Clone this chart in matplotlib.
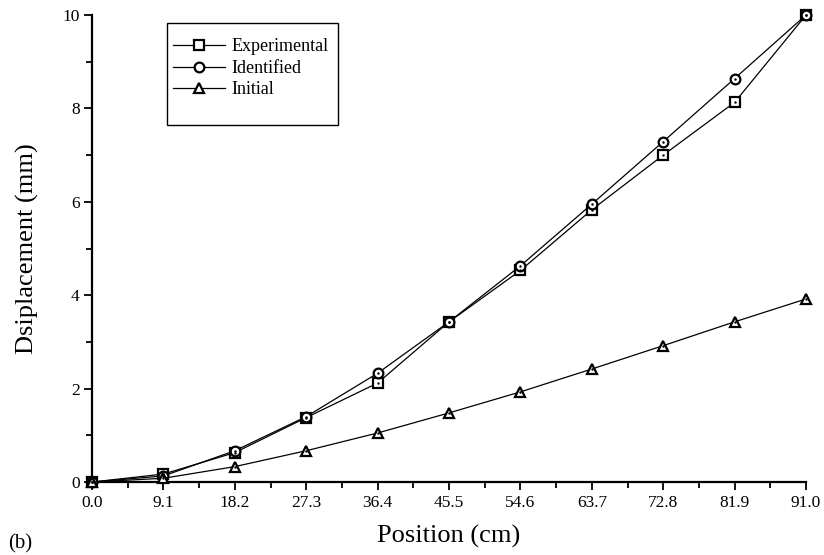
import matplotlib
matplotlib.use('Agg')
import matplotlib.pyplot as plt
from matplotlib.patches import Rectangle
from matplotlib.ticker import MultipleLocator
import numpy as np

plt.rcParams['font.family'] = ['Liberation Serif', 'DejaVu Serif']

# Dataset
position = [0.0, 9.1, 18.2, 27.3, 36.4, 45.5, 54.6, 63.7, 72.8, 81.9, 91.0]
experimental = [0.0, 0.17, 0.63, 1.38, 2.12, 3.43, 4.53, 5.83, 7.00, 8.13, 10.0]
identified = [0.0, 0.13, 0.67, 1.40, 2.33, 3.43, 4.63, 5.95, 7.29, 8.64, 10.0]
initial = [0.0, 0.08, 0.33, 0.67, 1.05, 1.48, 1.93, 2.42, 2.92, 3.43, 3.92]
tick_labels = ["0.0", "9.1", "18.2", "27.3", "36.4", "45.5", "54.6", "63.7", "72.8", "81.9", "91.0"]

fig = plt.figure(figsize=(8.24, 5.55), dpi=100)
ax = fig.add_axes([0.1117, 0.1315, 0.8665, 0.8415])

series = [(experimental, 's', 'Experimental'),
          (identified, 'o', 'Identified'),
          (initial, '^', 'Initial')]
handles = []
for ys, mk, lab in series:
    h, = ax.plot(position, ys, color='black', linewidth=0.9, marker=mk,
                 markersize=7, markerfacecolor='white', markeredgecolor='black',
                 markeredgewidth=1.6, label=lab, clip_on=False, zorder=3)
    # small dot in the middle of each marker
    ax.plot(position, ys, linestyle='none', marker='.', markersize=1.5,
            color='black', clip_on=False, zorder=4)
    handles.append(h)

ax.set_xlim(0, 91)
ax.set_ylim(0, 10)
ax.set_xticks(position)
ax.set_xticklabels(tick_labels)
ax.xaxis.set_minor_locator(MultipleLocator(4.55))
ax.set_yticks([0, 2, 4, 6, 8, 10])
ax.yaxis.set_minor_locator(MultipleLocator(1))
ax.tick_params(which='major', direction='out', length=6, width=1.3, labelsize=12.5, pad=3)
ax.tick_params(which='minor', direction='out', length=4, width=1.3)

for s in ['top', 'right']:
    ax.spines[s].set_visible(False)
for s in ['left', 'bottom']:
    ax.spines[s].set_linewidth(1.6)

ax.set_xlabel('Position (cm)', fontsize=19, labelpad=10)
ax.set_ylabel('Dsiplacement (mm)', fontsize=19, labelpad=17)

leg = ax.legend(handles=handles, loc='upper left', bbox_to_anchor=(0.113, 0.95),
                frameon=False, fontsize=13, handlelength=2.9, handletextpad=0.35,
                labelspacing=0.25, borderpad=0, borderaxespad=0)
ax.add_patch(Rectangle((0.105, 0.764), 0.24, 0.219, transform=ax.transAxes,
                       fill=False, edgecolor='black', linewidth=1.0, clip_on=False))

fig.text(0.01, 0.012, '(b)', fontsize=15)

fig.savefig('out.png', dpi=100)
